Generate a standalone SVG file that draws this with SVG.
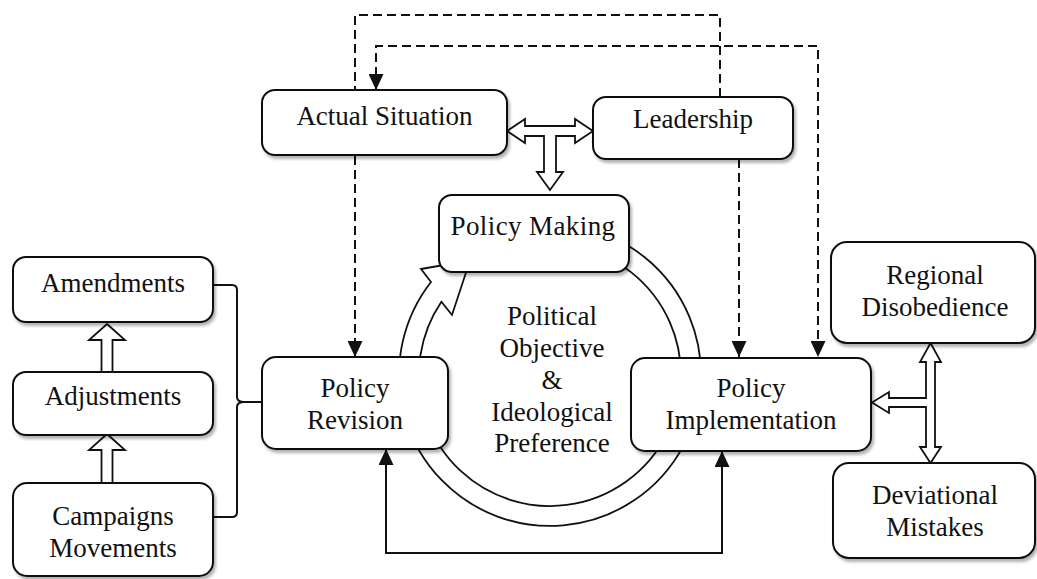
<svg xmlns="http://www.w3.org/2000/svg" width="1037" height="579" viewBox="0 0 1037 579">
  <style>
    .box { fill: #fff; stroke: #111; stroke-width: 2; filter: url(#shadow); }
    .lbl { font-family: "Liberation Serif", "Times New Roman", serif; font-size: 27px; fill: #111; text-anchor: middle; }
    .dash { fill: none; stroke: #111; stroke-width: 2; stroke-dasharray: 9 5; }
    .solid { fill: none; stroke: #111; stroke-width: 2; }
    .block { fill: #fff; stroke: #111; stroke-width: 1.8; stroke-linejoin: miter; }
    .ring { fill: #fff; stroke: #111; stroke-width: 1.8; }
  </style>
  <defs>
    <filter id="shadow" x="-5%" y="-5%" width="115%" height="125%">
      <feDropShadow dx="2" dy="3" stdDeviation="1.8" flood-color="#000" flood-opacity="0.3"/>
    </filter>
    <marker id="head" viewBox="0 0 16 15" refX="16" refY="7.5" markerWidth="16" markerHeight="15" markerUnits="userSpaceOnUse" orient="auto-start-reverse">
      <path d="M0,0 L16,7.5 L0,15 Z" fill="#111"/>
    </marker>
  </defs>

  <rect width="1037" height="579" fill="#fff"/>

  <!-- circular flow band with its arrowhead pointing into Policy Making -->
  <g id="cycle">
    <path class="ring" d="M510.9,229.1 A151,151 0 1 1 431,282 L421,269 L470,260.5 L452,315 L441.4,301.7 A131,131 0 1 0 516.1,248.5 Z"/>
  </g>

  <g id="connectors">
    <!-- dashed feedback lines -->
    <path class="dash" d="M720,97 V15 H355 V357" marker-end="url(#head)"/>
    <path class="dash" d="M376,90 V46 H818 V357" marker-start="url(#head)" marker-end="url(#head)"/>
    <path class="dash" d="M739,159 V357" marker-end="url(#head)"/>
    <!-- solid loop under the cycle -->
    <path class="solid" d="M386,449 V553 H722 V451" marker-start="url(#head)" marker-end="url(#head)"/>
    <!-- bracket joining the left column to Policy Revision -->
    <path class="solid" d="M213,285 H232 Q237,285 237,290 V397 Q237,401.5 243,402 Q237,402.5 237,407 V512 Q237,517 232,517 H213"/>
    <path class="solid" d="M243,402 H262"/>
    <!-- T-shaped block arrow between Actual Situation, Leadership and Policy Making -->
    <polygon class="block" points="507,131 525,119 525,126 575,126 575,119 593,131 575,143 575,136 556,136 556,172 563,172 550,190 537,172 544,172 544,136 525,136 525,143"/>
    <!-- T-shaped block arrow on the right -->
    <polygon class="block" points="930.5,343 941,362 935,362 935,447 941,447 930.5,463 920,447 926,447 926,407 889,407 889,413 872,402.5 889,392 889,398 926,398 926,362 920,362"/>
    <!-- upward block arrows in the left column -->
    <polygon class="block" points="107,324 125,340 112.5,340 112.5,374 101.5,374 101.5,340 89,340"/>
    <polygon class="block" points="107,434 125,450 112.5,450 112.5,485 101.5,485 101.5,450 89,450"/>
  </g>

  <g id="actual-situation">
    <rect class="box" x="262" y="90" width="245" height="65" rx="13"/>
    <text class="lbl" x="384.5" y="125">Actual Situation</text>
  </g>
  <g id="leadership">
    <rect class="box" x="593" y="97" width="200" height="62" rx="13"/>
    <text class="lbl" x="693" y="128">Leadership</text>
  </g>
  <g id="policy-making">
    <rect class="box" x="439" y="195" width="190" height="77" rx="13"/>
    <text class="lbl" x="533" y="235" letter-spacing="0.4">Policy Making</text>
  </g>
  <g id="center-label">
    <text class="lbl" x="552" y="325">Political</text>
    <text class="lbl" x="552" y="357">Objective</text>
    <text class="lbl" x="552" y="389">&amp;</text>
    <text class="lbl" x="552" y="421">Ideological</text>
    <text class="lbl" x="552" y="452">Preference</text>
  </g>
  <g id="policy-revision">
    <rect class="box" x="262" y="357" width="186" height="92" rx="14"/>
    <text class="lbl" x="355" y="397">Policy</text>
    <text class="lbl" x="355" y="429">Revision</text>
  </g>
  <g id="policy-implementation">
    <rect class="box" x="631" y="358" width="240" height="93" rx="14"/>
    <text class="lbl" x="751" y="397">Policy</text>
    <text class="lbl" x="751" y="429">Implementation</text>
  </g>
  <g id="amendments">
    <rect class="box" x="13" y="257" width="200" height="65" rx="13"/>
    <text class="lbl" x="113" y="292">Amendments</text>
  </g>
  <g id="adjustments">
    <rect class="box" x="13" y="372" width="200" height="63" rx="13"/>
    <text class="lbl" x="113" y="405">Adjustments</text>
  </g>
  <g id="campaigns-movements">
    <rect class="box" x="13" y="483" width="200" height="93" rx="14"/>
    <text class="lbl" x="113" y="525">Campaigns</text>
    <text class="lbl" x="113" y="557">Movements</text>
  </g>
  <g id="regional-disobedience">
    <rect class="box" x="831" y="242" width="204" height="101" rx="16"/>
    <text class="lbl" x="935" y="284">Regional</text>
    <text class="lbl" x="935" y="316">Disobedience</text>
  </g>
  <g id="deviational-mistakes">
    <rect class="box" x="833" y="463" width="202" height="95" rx="16"/>
    <text class="lbl" x="935" y="504">Deviational</text>
    <text class="lbl" x="935" y="536">Mistakes</text>
  </g>
</svg>
